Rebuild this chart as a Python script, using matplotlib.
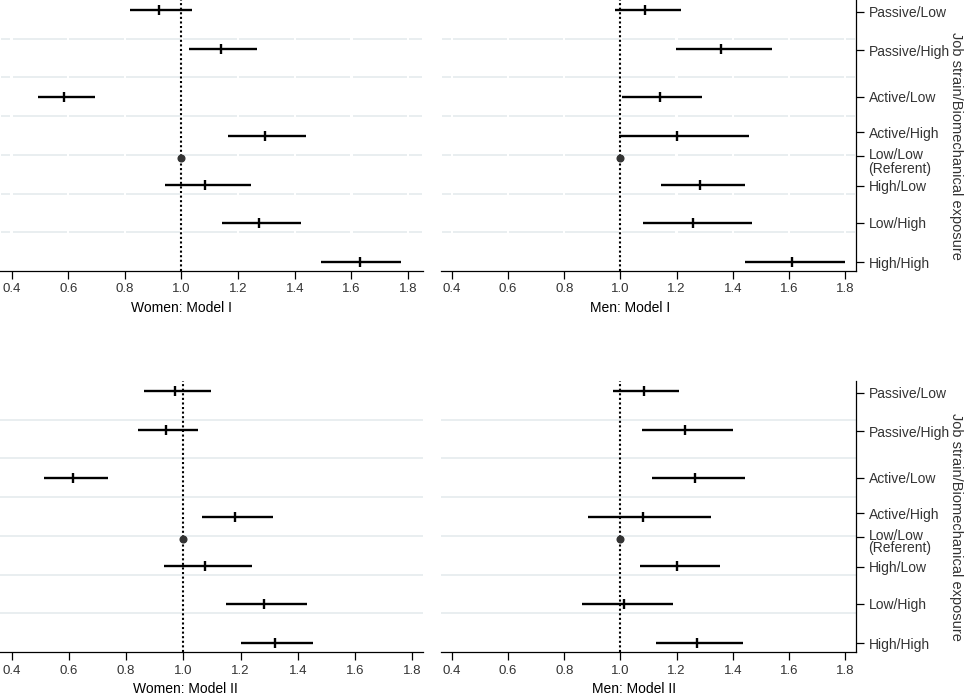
import matplotlib
matplotlib.use("Agg")
import matplotlib.pyplot as plt
import matplotlib.transforms as mtransforms
import numpy as np

plt.rcParams['font.family'] = ['Liberation Sans', 'DejaVu Sans']
plt.rcParams['font.size'] = 10

categories = ["Passive/Low", "Passive/High", "Active/Low", "Active/High",
              "Low/Low\n(Referent)", "High/Low", "Low/High", "High/High"]
# row positions (top to bottom) for markers and for the right-hand tick labels
row_pos = [6.75, 5.74, 4.50, 3.50, 2.93, 2.22, 1.24, 0.23]
tick_pos = [6.70, 5.70, 4.50, 3.58, 2.98, 2.20, 1.25, 0.22]
ref_index = 4

women1_est = [0.922, 1.139, 0.585, 1.296, 1.0, 1.083, 1.275, 1.629]
women1_lo = [0.819, 1.027, 0.494, 1.165, 1.0, 0.942, 1.144, 1.494]
women1_hi = [1.038, 1.267, 0.695, 1.438, 1.0, 1.246, 1.422, 1.776]

men1_est = [1.089, 1.358, 1.140, 1.200, 1.0, 1.284, 1.260, 1.610]
men1_lo = [0.980, 1.197, 1.005, 0.995, 1.0, 1.145, 1.082, 1.444]
men1_hi = [1.214, 1.539, 1.292, 1.459, 1.0, 1.442, 1.469, 1.801]

women2_est = [0.972, 0.940, 0.615, 1.182, 1.0, 1.076, 1.283, 1.321]
women2_lo = [0.861, 0.840, 0.514, 1.064, 1.0, 0.934, 1.148, 1.203]
women2_hi = [1.097, 1.051, 0.736, 1.314, 1.0, 1.240, 1.433, 1.454]

men2_est = [1.084, 1.229, 1.267, 1.082, 1.0, 1.203, 1.011, 1.274]
men2_lo = [0.975, 1.076, 1.111, 0.886, 1.0, 1.071, 0.863, 1.128]
men2_hi = [1.210, 1.402, 1.445, 1.323, 1.0, 1.355, 1.189, 1.438]

xticks = [0.4, 0.6, 0.8, 1.0, 1.2, 1.4, 1.6, 1.8]
xtick_labels = ["0.4", "0.6", "0.8", "1.0", "1.2", "1.4", "1.6", "1.8"]
panel_titles = ["Women: Model I", "Men: Model I", "Women: Model II", "Men: Model II"]
ylabel = "Job strain/Biomechanical exposure"

W, H = 972, 695
fig = plt.figure(figsize=(W / 100, H / 100), dpi=100)

def px_axes(x0, x1, ytop, ybot):
    return fig.add_axes([x0 / W, (H - ybot) / H, (x1 - x0) / W, (ybot - ytop) / H])

panels = [
    dict(box=(0, 423, 0, 271), xlim=(0.359, 1.853), est=women1_est, lo=women1_lo, hi=women1_hi,
         right=False, gapgrid=True, labx=181),
    dict(box=(441, 856, 0, 271), xlim=(0.361, 1.839), est=men1_est, lo=men1_lo, hi=men1_hi,
         right=True, gapgrid=True, labx=630),
    dict(box=(0, 423, 381, 652), xlim=(0.359, 1.838), est=women2_est, lo=women2_lo, hi=women2_hi,
         right=False, gapgrid=False, labx=185),
    dict(box=(441, 856, 381, 652), xlim=(0.361, 1.839), est=men2_est, lo=men2_lo, hi=men2_hi,
         right=True, gapgrid=False, labx=634),
]

grid_color = "#e9eef0"
text_color = "#333333"

for i, p in enumerate(panels):
    x0, x1, yt, yb = p["box"]
    ax = px_axes(x0, x1, yt, yb)
    ax.set_xlim(*p["xlim"])
    ax.set_ylim(0, 7)

    # horizontal gridlines
    for gy in range(1, 7):
        if p["gapgrid"]:
            edges = [p["xlim"][0]] + xticks + [p["xlim"][1]]
            gap = 0.004
            for a, b in zip(edges[:-1], edges[1:]):
                ax.plot([a + gap, b - gap], [gy, gy], color=grid_color, lw=1.4,
                        solid_capstyle="butt", zorder=1)
        else:
            ax.axhline(gy, color=grid_color, lw=1.4, zorder=1)

    ax.axvline(1.0, color="black", ls=(0, (1, 1.2)), lw=1.5, zorder=2)

    for j in range(len(categories)):
        y = row_pos[j]
        if j == ref_index:
            ax.plot([p["est"][j]], [y], 'o', color="#333333", ms=4.8, zorder=4)
            continue
        ax.plot([p["lo"][j], p["hi"][j]], [y, y], color="black", lw=1.7,
                solid_capstyle="butt", zorder=3)
        ax.plot([p["est"][j]], [y], marker='|', color="black", ms=6.5, mew=1.7, zorder=4)

    ax.set_xticks(xticks)
    ax.set_xticklabels(xtick_labels, color=text_color, fontsize=9.5)
    ax.tick_params(axis='x', direction='out', length=6, width=0.9, color='black', pad=3)

    for s in ["top", "left"]:
        ax.spines[s].set_visible(False)
    ax.spines["bottom"].set_linewidth(0.9)

    if p["right"]:
        ax.spines["right"].set_linewidth(0.9)
        ax.yaxis.tick_right()
        ax.set_yticks(tick_pos)
        ax.set_yticklabels(categories, color=text_color, fontsize=10,
                           linespacing=1.0 if i == 1 else 0.8)
        ax.tick_params(axis='y', direction='out', length=6, width=0.9, color='black', pad=3)
        lab = ax.get_yticklabels()[ref_index]
        lab.set_verticalalignment('top')
        lab.set_transform(lab.get_transform() + mtransforms.ScaledTranslation(0, 5.5 / 72, fig.dpi_scale_trans))
        fig.text(956 / W, 1 - ((yt + yb) / 2 + 10) / H, ylabel, rotation=-90, fontsize=10.5,
                 color=text_color, ha='center', va='center')
    else:
        ax.spines["right"].set_visible(False)
        ax.set_yticks([])

    ax.set_xlabel(panel_titles[i], fontsize=10, color="black")
    ax.xaxis.set_label_coords((p["labx"] - x0) / (x1 - x0), -(30 / (yb - yt)))

fig.savefig("out.png", dpi=100)
